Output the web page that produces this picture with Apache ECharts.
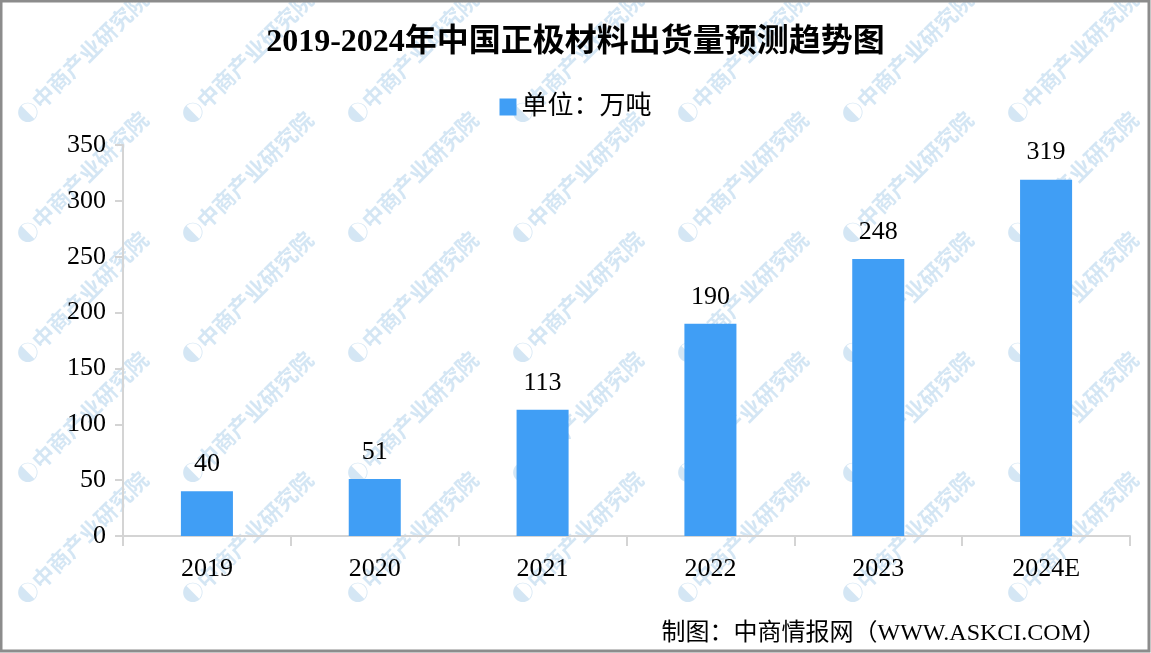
<!DOCTYPE html>
<html>
<head>
<meta charset="utf-8">
<script src="https://cdn.jsdelivr.net/npm/echarts@6/dist/echarts.min.js"></script>
<style>
html,body{margin:0;padding:0;background:#fff;}
#chart{width:1151px;height:653px;}
</style>
</head>
<body>
<div id="chart"></div>
<script>
// 数据
let years = ['2019', '2020', '2021', '2022', '2023', '2024E']
let shipments = [40, 51, 113, 190, 248, 319]
let unitName = '单位：万吨'
let titleText = '2019-2024年中国正极材料出货量预测趋势图'
let sourceText = '制图：中商情报网（WWW.ASKCI.COM）'

let serif = '"Liberation Serif", "DejaVu Serif", "Noto Sans CJK SC", serif'

let c = echarts.init(document.getElementById('chart'))

// 水印
let marks = []
for (let i = 0; i < 7; i++) {
    for (let j = 0; j < 6; j++) {
        marks.push({
            type: 'text',
            x: 20 + i * 165,
            y: 0 + j * 120,
            rotation: Math.PI / 4,
            z: -1,
            silent: true,
            style: {
                text: '◐中商产业研究院',
                fill: 'rgba(160,200,230,0.45)',
                font: 'bold 22px "Noto Sans CJK SC"',
                textAlign: 'left',
                textVerticalAlign: 'middle'
            }
        })
    }
}

let option = {
    animation: false,
    title: {
        text: titleText,
        left: 'center',
        top: 22,
        textStyle: {
            fontFamily: serif,
            fontSize: 32,
            fontWeight: 'bold',
            color: '#000'
        }
    },
    legend: {
        top: 89,
        left: 'center',
        itemWidth: 17,
        itemHeight: 17,
        itemGap: 10,
        icon: 'rect',
        textStyle: { fontFamily: serif, fontSize: 26, color: '#000' },
        data: [unitName]
    },
    grid: { left: 123, right: 21, top: 145, bottom: 117 },
    xAxis: {
        type: 'category',
        data: years,
        axisLine: { lineStyle: { color: '#d4d4d4', width: 2 } },
        axisTick: { show: true, length: 10, lineStyle: { color: '#d4d4d4', width: 2 } },
        axisLabel: { fontFamily: serif, fontSize: 26, color: '#000', margin: 20 }
    },
    yAxis: {
        type: 'value',
        min: 0,
        max: 350,
        interval: 50,
        axisLine: { show: true, lineStyle: { color: '#d4d4d4', width: 2 } },
        axisTick: { show: true, length: 8, lineStyle: { color: '#d4d4d4', width: 2 } },
        splitLine: { show: false },
        axisLabel: { fontFamily: serif, fontSize: 26, color: '#000', margin: 17 }
    },
    graphic: marks.concat([
        {
            type: 'rect',
            z: 100,
            silent: true,
            shape: { x: 1, y: 1, width: 1148, height: 650 },
            style: { fill: 'none', stroke: '#8c8c8c', lineWidth: 3 }
        },
        {
            type: 'text',
            right: 45,
            bottom: 7,
            style: {
                text: sourceText,
                fill: '#000',
                font: '24px "Liberation Serif", "Noto Sans CJK SC"'
            }
        }
    ]),
    series: [{
        name: unitName,
        type: 'bar',
        data: shipments,
        barWidth: '31%',
        itemStyle: { color: '#409ef5' },
        label: {
            show: true,
            position: 'top',
            distance: 14,
            fontFamily: serif,
            fontSize: 26,
            color: '#000'
        }
    }]
}
c.setOption(option)
</script>
</body>
</html>
